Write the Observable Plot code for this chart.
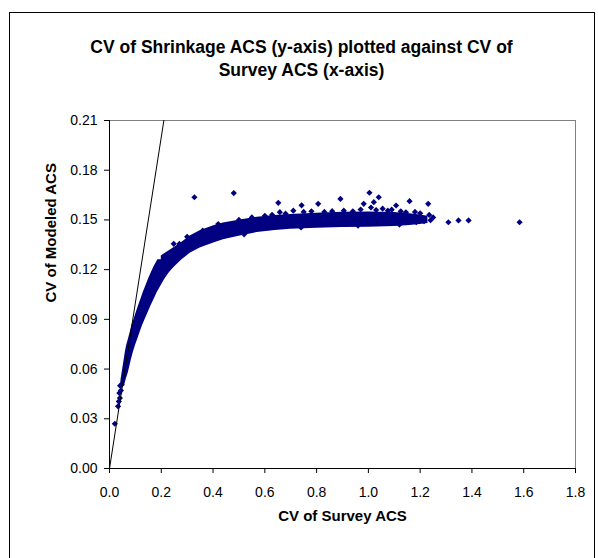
<!DOCTYPE html>
<html><head><meta charset="utf-8">
<script src="https://cdn.jsdelivr.net/npm/d3@7"></script>
<script src="https://cdn.jsdelivr.net/npm/@observablehq/plot@0.6"></script>
<style>
html,body{margin:0;padding:0;background:#fff;}
#wrap{position:relative;width:598px;height:558px;overflow:hidden;font-family:"Liberation Sans",Arial,sans-serif;color:#000;}
#chart{position:absolute;left:0;top:100px;}
#title{position:absolute;left:9px;width:585px;top:36px;text-align:center;font-weight:bold;font-size:17.5px;line-height:23px;white-space:nowrap;}
#border{position:absolute;left:9px;top:12px;width:586px;height:600px;border:1px solid #000;box-sizing:border-box;pointer-events:none;}
</style></head><body>
<div id="wrap">
  <div id="chart"></div>
  <div id="title">CV of Shrinkage ACS (y-axis) plotted against CV of<br>Survey ACS (x-axis)</div>
  <div id="border"></div>
</div>
<script>
// Axis ticks and labels
const xTicks = [0, 0.2, 0.4, 0.6, 0.8, 1.0, 1.2, 1.4, 1.6, 1.8];
const xTickLabels = ["0.0","0.2","0.4","0.6","0.8","1.0","1.2","1.4","1.6","1.8"];
const yTicks = [0, 0.03, 0.06, 0.09, 0.12, 0.15, 0.18, 0.21];
const yTickLabels = ["0.00","0.03","0.06","0.09","0.12","0.15","0.18","0.21"];

// Reference line y = x
const refX = [0, 0.21];
const refY = [0, 0.21];

// Dense point cloud, steep part (read as horizontal extent per CV of Modeled ACS)
const steepY     = [0.050,0.054,0.058,0.062,0.066,0.070,0.074,0.078,0.082,0.086,0.090,0.094,0.098,0.102,0.106,0.110,0.114,0.118,0.122,0.126];
const steepXLow  = [0.042,0.045,0.049,0.053,0.057,0.061,0.066,0.073,0.080,0.086,0.095,0.103,0.112,0.121,0.130,0.140,0.150,0.161,0.173,0.187];
const steepXHigh = [0.058,0.065,0.073,0.079,0.085,0.092,0.100,0.109,0.118,0.127,0.138,0.149,0.160,0.172,0.184,0.198,0.213,0.230,0.250,0.272];

// Dense point cloud, flat part (read as vertical extent per CV of Survey ACS)
const flatX     = [0.20,0.22,0.25,0.28,0.313,0.35,0.40,0.44,0.50,0.57,0.64,0.70,0.80,0.90,1.00,1.10,1.16,1.20,1.23];
const flatYLow  = [0.1150,0.1165,0.1215,0.1260,0.1300,0.1330,0.1360,0.1380,0.1402,0.1424,0.1436,0.1444,0.1450,0.1454,0.1456,0.1460,0.1466,0.1472,0.1478];
const flatYHigh = [0.1282,0.1303,0.1333,0.1365,0.1405,0.1435,0.1464,0.1482,0.1498,0.1516,0.1526,0.1533,0.1540,0.1546,0.1548,0.1545,0.1538,0.1530,0.1522];

// Individual points (low end, edge spikes, outliers)
const surveyCV = [0.0206,0.033,0.036,0.040,0.038,0.044,0.041,0.047,
  0.248,0.270,0.300,0.328,0.360,0.420,0.480,0.500,0.550,0.600,0.628,0.652,0.658,0.680,0.710,0.742,0.750,0.780,0.806,0.830,0.860,0.892,0.905,0.940,0.970,0.982,
  1.004,1.010,1.021,1.030,1.040,1.055,1.075,1.090,1.107,1.125,1.145,1.159,1.180,1.200,1.231,1.235,1.250,1.240,1.215,1.185,
  0.520,0.740,0.960,1.120,
  1.309,1.348,1.387,1.584];
const modeledCV = [0.0270,0.0375,0.0405,0.0425,0.0455,0.0470,0.0500,0.0505,
  0.1356,0.1355,0.1398,0.1637,0.1435,0.1475,0.1662,0.1500,0.1515,0.1525,0.1531,0.1603,0.1547,0.1538,0.1556,0.1588,0.1548,0.1552,0.1597,0.1548,0.1553,0.1627,0.1556,0.1552,0.1563,0.1597,
  0.1664,0.1575,0.1607,0.1560,0.1637,0.1568,0.1556,0.1562,0.1587,0.1552,0.1546,0.1613,0.1548,0.1540,0.1597,0.1530,0.1515,0.1498,0.1492,0.1486,
  0.1413,0.1455,0.1466,0.1472,
  0.1486,0.1497,0.1497,0.1486];

const navy = "#000080";
const steep = steepY.map((y, i) => ({y, xl: steepXLow[i], xr: steepXHigh[i]}));
const flat = flatX.map((x, i) => ({x, lo: flatYLow[i], hi: flatYHigh[i]}));
const pts = surveyCV.map((x, i) => ({x, y: modeledCV[i]}));
const ref = refX.map((x, i) => ({x, y: refY[i]}));
const xFmt = new Map(xTicks.map((t, i) => [t, xTickLabels[i]]));
const yFmt = new Map(yTicks.map((t, i) => [t, yTickLabels[i]]));

const diamond = {draw(ctx, size) {
  const s = Math.sqrt(size / Math.PI);
  ctx.moveTo(0, -s); ctx.lineTo(s, 0); ctx.lineTo(0, s); ctx.lineTo(-s, 0); ctx.closePath();
}};

const chart = Plot.plot({
  width: 598, height: 458,
  marginLeft: 109, marginRight: 23, marginTop: 20, marginBottom: 90,
  style: {fontFamily: "'Liberation Sans', Arial, sans-serif", fontSize: "14px", color: "#000", background: "transparent"},
  x: {domain: [0, 1.8]},
  y: {domain: [0, 0.21]},
  marks: [
    Plot.frame({stroke: "#808080"}),
    Plot.areaX(steep, {y: "y", x1: "xl", x2: "xr", fill: navy}),
    Plot.areaY(flat, {x: "x", y1: "lo", y2: "hi", fill: navy}),
    Plot.dot(pts, {x: "x", y: "y", r: 3.1, symbol: diamond, fill: navy}),
    Plot.line(ref, {x: "x", y: "y", stroke: "#000", strokeWidth: 1}),
    Plot.ruleX([0], {stroke: "#000"}),
    Plot.ruleY([0], {stroke: "#000"}),
    Plot.axisX({ticks: xTicks, tickFormat: d => xFmt.get(d), tickSize: 5, tickPadding: 14, fontSize: 14, label: null}),
    Plot.axisY({ticks: yTicks, tickFormat: d => yFmt.get(d), tickSize: 5, tickPadding: 7, fontSize: 14, label: null}),
    Plot.text(["CV of Survey ACS"], {text: d => d, frameAnchor: "bottom", dy: 52, fontWeight: "bold", fontSize: 15}),
    Plot.text(["CV of Modeled ACS"], {text: d => d, frameAnchor: "left", dx: -58, dy: 8, rotate: -90, fontWeight: "bold", fontSize: 15})
  ]
});
document.getElementById("chart").appendChild(chart);
</script>
</body></html>
